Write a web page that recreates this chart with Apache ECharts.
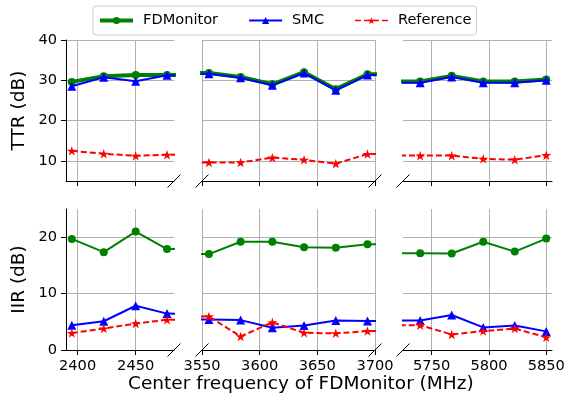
<!DOCTYPE html>
<html><head><meta charset="utf-8">
<script src="https://cdn.jsdelivr.net/npm/echarts@6/dist/echarts.min.js"></script>
<style>html,body{margin:0;padding:0;background:#fff}#c{width:569px;height:395px}</style>
</head><body><div id="c"></div>
<script>
// ---- data ----
const freqs = [2395, 2422.5, 2450, 2477, 3556, 3583.5, 3611, 3638.5, 3666, 3693.5, 5740, 5767.5, 5795, 5822.5, 5850];
const ttrFDMonitor = [29.6, 31.0, 31.3, 31.3, 31.8, 30.8, 29.0, 32.0, 27.8, 31.5, 29.7, 31.1, 29.7, 29.7, 30.2];
const ttrSMC       = [28.5, 30.75, 29.75, 31.25, 31.6, 30.6, 28.75, 31.8, 27.5, 31.3, 29.4, 30.8, 29.4, 29.4, 30.0];
const ttrReference = [12.5, 11.75, 11.25, 11.5, 9.6, 9.6, 10.8, 10.25, 9.3, 11.7, 11.3, 11.3, 10.5, 10.3, 11.4];
const iirFDMonitor = [19.7, 17.35, 21.0, 17.9, 17.0, 19.2, 19.2, 18.2, 18.15, 18.75, 17.15, 17.1, 19.2, 17.45, 19.75];
const iirSMC       = [4.4, 5.1, 7.85, 6.45, 5.4, 5.3, 3.95, 4.35, 5.25, 5.15, 5.25, 6.2, 4.0, 4.35, 3.3];
const iirReference = [3.0, 3.8, 4.7, 5.35, 5.95, 2.4, 4.9, 3.05, 2.95, 3.35, 4.4, 2.75, 3.35, 3.8, 2.25];

const xRanges = [[2390, 2483], [3550, 3700], [5725, 5855]];
const xTickValues = [[2400, 2450], [3550, 3600, 3650, 3700], [5750, 5800, 5850]];
const yRanges = [[5, 40], [0, 25]];
const yTickValues = [[10, 20, 30, 40], [0, 10, 20]];
const yTitles = ['TTR (dB)', 'IIR (dB)'];
const xTitle = 'Center frequency of FDMonitor (MHz)';
const seriesNames = ['FDMonitor', 'SMC', 'Reference'];

// ---- layout / style ----
const FONT = 'DejaVu Sans';
const cols = [{left: 66, width: 108}, {left: 202, width: 173}, {left: 403, width: 149}];
const rows = [{top: 40, height: 141}, {top: 209, height: 141}];
const STAR = 'path://M1,0L1.2245,0.691L1.9511,0.691L1.3633,1.118L1.5878,1.809L1,1.382L0.4122,1.809L0.6367,1.118L0.0489,0.691L0.7755,0.691Z';
const GRIDC = '#b0b0b0';

const grids = [], xAxes = [], yAxes = [], series = [];
const rowData = [[ttrFDMonitor, ttrSMC, ttrReference], [iirFDMonitor, iirSMC, iirReference]];

rows.forEach((r, ri) => {
  cols.forEach((c, ci) => {
    const gi = ri * 3 + ci;
    grids.push({left: c.left, width: c.width, top: r.top, height: r.height, containLabel: false});
    xAxes.push({
      type: 'value', gridIndex: gi, min: xRanges[ci][0], max: xRanges[ci][1],
      axisLine: {show: true, onZero: false, lineStyle: {color: '#000', width: 1}},
      axisTick: {show: true, length: 5, customValues: xTickValues[ci], lineStyle: {color: '#000', width: 1}},
      axisLabel: {show: ri === 1, customValues: xTickValues[ci], margin: 9, color: '#000', fontSize: 14.6, fontFamily: FONT,
        formatter: v => String(v), showMinLabel: true, showMaxLabel: true, hideOverlap: false},
      splitLine: {show: true, lineStyle: {color: GRIDC, width: 1}}
    });
    yAxes.push({
      type: 'value', gridIndex: gi, min: yRanges[ri][0], max: yRanges[ri][1],
      axisLine: {show: ci === 0, onZero: false, lineStyle: {color: '#000', width: 1}},
      axisTick: {show: ci === 0, length: 5, customValues: yTickValues[ri], lineStyle: {color: '#000', width: 1}},
      axisLabel: {show: ci === 0, customValues: yTickValues[ri], margin: 9, color: '#000', fontSize: 14.6, fontFamily: FONT,
        formatter: v => String(v), showMinLabel: true, showMaxLabel: true},
      splitLine: {show: true, lineStyle: {color: GRIDC, width: 1}},
      name: ci === 0 ? yTitles[ri] : '', nameLocation: 'middle', nameRotate: 90, nameGap: 37,
      nameTextStyle: {color: '#000', fontSize: 18.5, fontFamily: FONT}
    });
    const vals = rowData[ri];
    const pts = v => freqs.map((f, i) => [f, v[i]]);
    series.push({
      type: 'line', name: seriesNames[0], xAxisIndex: gi, yAxisIndex: gi, data: pts(vals[0]),
      symbol: 'circle', symbolSize: 8, color: '#008000',
      lineStyle: {color: '#008000', width: ri === 0 ? 4 : 2}, itemStyle: {color: '#008000'},
      clip: true, animation: false, z: 2, emphasis: {disabled: true}
    });
    series.push({
      type: 'line', name: seriesNames[1], xAxisIndex: gi, yAxisIndex: gi, data: pts(vals[1]),
      symbol: 'triangle', symbolSize: 9, color: '#0000ff',
      lineStyle: {color: '#0000ff', width: 2}, itemStyle: {color: '#0000ff'},
      clip: true, animation: false, z: 3, emphasis: {disabled: true}
    });
    series.push({
      type: 'line', name: seriesNames[2], xAxisIndex: gi, yAxisIndex: gi, data: pts(vals[2]),
      symbol: STAR, symbolSize: 10, symbolKeepAspect: true, color: '#ff0000',
      lineStyle: {color: '#ff0000', width: 2, type: [6, 3]}, itemStyle: {color: '#ff0000'},
      clip: true, animation: false, z: 4, emphasis: {disabled: true}
    });
  });
});

const chart = echarts.init(document.getElementById('c'), null, {renderer: 'canvas'});
chart.setOption({
  backgroundColor: '#fff',
  animation: false,
  textStyle: {fontFamily: FONT},
  title: {text: xTitle, left: 128, top: 375, padding: 0,
    textStyle: {fontSize: 18.5, fontWeight: 'normal', color: '#000', fontFamily: FONT}},
  legend: {
    left: 93, top: 6, orient: 'horizontal',
    padding: [7, 5, 7, 5], itemGap: 30, itemWidth: 33, itemHeight: 9,
    borderColor: '#cccccc', borderWidth: 1, borderRadius: 3, backgroundColor: '#fff',
    textStyle: {fontSize: 14.6, color: '#000', fontFamily: FONT, padding: [0, 0, 0, 5]},
    data: [
      {name: seriesNames[0], lineStyle: {width: 4}},
      {name: seriesNames[1], lineStyle: {width: 2}},
      {name: seriesNames[2], lineStyle: {width: 1.5}}
    ]
  },
  grid: grids, xAxis: xAxes, yAxis: yAxes, series: series
});

// broken-axis diagonal marks at the bottom spines
const g = [];
const d = 6.5;
rows.forEach((r, ri) => {
  cols.forEach((c, ci) => {
    const gi = ri * 3 + ci;
    const yb = yRanges[ri][0];
    const ends = [];
    if (ci > 0) ends.push(xRanges[ci][0]);
    if (ci < 2) ends.push(xRanges[ci][1]);
    ends.forEach(xv => {
      const p = chart.convertToPixel({gridIndex: gi}, [xv, yb]);
      g.push({type: 'line', silent: true, z: 100,
        shape: {x1: p[0] - d, y1: p[1] + d, x2: p[0] + d, y2: p[1] - d},
        style: {stroke: '#000', lineWidth: 1}});
    });
  });
});
chart.setOption({graphic: g});
</script>
</body></html>
